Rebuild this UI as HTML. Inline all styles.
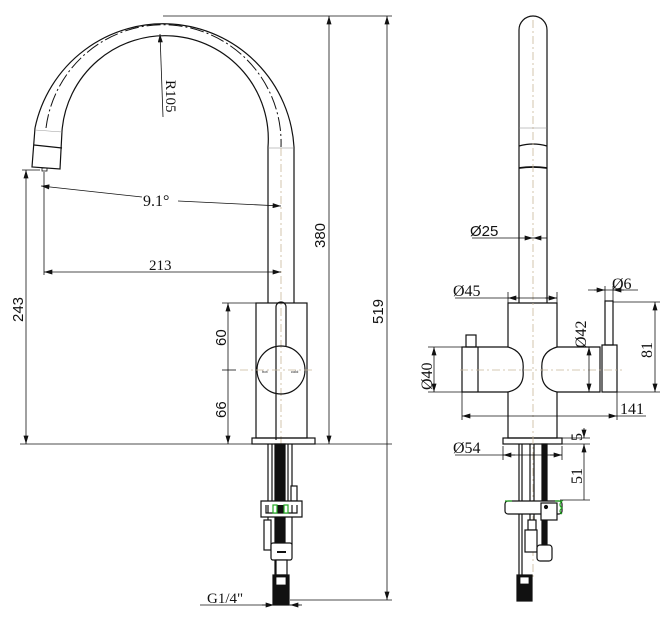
<!DOCTYPE html>
<html><head><meta charset="utf-8"><style>
html,body{margin:0;padding:0;background:#fff}
svg{display:block}
text{font-family:"Liberation Serif",serif;fill:#111}
.s{font-family:"Liberation Sans",sans-serif}
</style></head><body>
<svg width="672" height="619" viewBox="0 0 672 619" xmlns="http://www.w3.org/2000/svg">
<defs>
<marker id="a" viewBox="0 0 10 6" refX="10" refY="3" markerWidth="9" markerHeight="5" orient="auto-start-reverse" markerUnits="userSpaceOnUse"><path d="M0,0 L10,3 L0,6z" fill="#111"/></marker>
</defs>
<g fill="none" stroke="#111" stroke-width="1.2">
<path d="M35,128 A131,131 0 0 1 294,147 L294,303"/>
<path d="M62,131 A103,103 0 0 1 268,147 L268,303"/>
<path d="M46,128 A118,118 0 0 1 281,147" stroke-width="1" stroke-dasharray="14,3,2,3"/>
<line x1="268" y1="148" x2="294" y2="148" stroke-width="0.6" stroke="#888"/>
<path d="M35,128 L32,167 L60,169 L62,131" />
<line x1="35" y1="130" x2="62" y2="132" stroke-width="0.5" stroke="#999"/>
<line x1="34" y1="145" x2="62" y2="148"/>
<rect x="42" y="168" width="5" height="3" stroke-width="0.8"/>
<line x1="281" y1="148" x2="281" y2="580" stroke="#c9b79a" stroke-width="0.8" stroke-dasharray="8,3,2,3"/>
<rect x="256" y="303" width="51" height="135"/>
<path d="M276,440 L276,307 A5,5 0 0 1 286,307 L286,346"/>
<circle cx="281" cy="370" r="24"/>
<line x1="240" y1="370" x2="312" y2="370" stroke="#c9b79a" stroke-width="0.8" stroke-dasharray="8,3,2,3"/>
<rect x="252" y="438" width="63" height="6"/>
<line x1="268" y1="444" x2="268" y2="545"/><line x1="272" y1="444" x2="272" y2="501"/>
<line x1="288" y1="444" x2="288" y2="501"/><line x1="292" y1="444" x2="292" y2="545"/>
<rect x="275" y="444" width="10" height="131" fill="#111"/>
<rect x="291" y="486" width="6" height="15" fill="#fff"/>
<path d="M261,501 H302 V517 H261Z M266,505 V513 H297 V505" fill="#fff"/>
<rect x="273" y="505" width="4" height="8" stroke="#2a2" fill="#fff"/>
<rect x="284" y="505" width="4" height="8" stroke="#2a2" fill="#fff"/>
<rect x="264" y="520" width="7" height="30" fill="#fff"/>
<rect x="271" y="543" width="21" height="17" rx="2" fill="#fff"/>
<line x1="277" y1="552" x2="286" y2="552" stroke-width="2"/>
<rect x="276" y="560" width="11" height="15" fill="#fff"/>
<rect x="273" y="575" width="16" height="30" fill="#111"/>
<rect x="276" y="577" width="10" height="8" fill="#fff" stroke-width="0.8"/>
</g>
<g fill="none" stroke="#111" stroke-width="0.8">
<line x1="163" y1="16" x2="392" y2="16"/>
<line x1="329" y1="16" x2="329" y2="444" marker-start="url(#a)" marker-end="url(#a)"/>
<line x1="387" y1="16" x2="387" y2="600" marker-start="url(#a)" marker-end="url(#a)"/>
<line x1="20" y1="444" x2="392" y2="444"/>
<line x1="290" y1="600" x2="392" y2="600"/>
<line x1="22" y1="170" x2="40" y2="170"/>
<line x1="26" y1="170" x2="26" y2="444" marker-start="url(#a)" marker-end="url(#a)"/>
<line x1="222" y1="303" x2="256" y2="303"/>
<line x1="228" y1="303" x2="228" y2="444" marker-start="url(#a)" marker-end="url(#a)"/>
<line x1="222" y1="370" x2="236" y2="370"/>
<line x1="44" y1="172" x2="44" y2="275"/>
<line x1="41" y1="186" x2="142" y2="197" marker-start="url(#a)"/>
<line x1="178" y1="201" x2="281" y2="206" marker-end="url(#a)"/>
<line x1="44" y1="272" x2="281" y2="272" marker-start="url(#a)" marker-end="url(#a)"/>
<line x1="163" y1="117" x2="160" y2="34" marker-end="url(#a)"/>
<line x1="200" y1="605" x2="300" y2="605"/>
<line x1="262" y1="605" x2="274" y2="605" marker-end="url(#a)"/>
<line x1="302" y1="605" x2="290" y2="605" marker-end="url(#a)"/>
</g>
<text x="143" y="206" font-size="16">9.1°</text>
<text x="149" y="270" font-size="15">213</text>
<text x="207" y="603" font-size="15">G1/4"</text>
<text transform="translate(166,80) rotate(90)" font-size="15">R105</text>
<text class="s" transform="translate(325,248) rotate(-90)" font-size="15">380</text>
<text class="s" transform="translate(383,324) rotate(-90)" font-size="15">519</text>
<text class="s" transform="translate(23,322) rotate(-90)" font-size="15">243</text>
<text class="s" transform="translate(226,346) rotate(-90)" font-size="15">60</text>
<text class="s" transform="translate(226,418) rotate(-90)" font-size="15">66</text>
<text class="s" x="262" y="373" font-size="4">hot</text>
<text class="s" x="291" y="373" font-size="4">cold</text>

<g fill="none" stroke="#111" stroke-width="1.2">
<path d="M519,303 V30 A14,14 0 0 1 547,30 V303"/>
<line x1="519" y1="128" x2="547" y2="128" stroke-width="0.5" stroke="#888"/>
<path d="M519,146 Q533,142 547,146"/>
<path d="M519,168 Q533,166 547,168" stroke-width="1.8"/>
<path d="M508,303 H557 V347 Q540,352 542,370 Q540,388 557,392 V438 H508 V392 Q525,388 523,370 Q525,352 508,347Z"/>
<path d="M508,347 H462 V392 H508"/>
<line x1="478" y1="347" x2="478" y2="392"/>
<rect x="466" y="335" width="10" height="12"/>
<path d="M557,347 H600 V392 H557"/>
<rect x="602" y="345" width="15" height="47"/>
<rect x="605" y="301" width="8" height="44"/>
<rect x="503" y="438" width="59" height="6"/>
<line x1="533" y1="20" x2="533" y2="580" stroke="#c9b79a" stroke-width="0.8" stroke-dasharray="8,3,2,3"/>
<line x1="460" y1="370" x2="622" y2="370" stroke="#c9b79a" stroke-width="0.8" stroke-dasharray="8,3,2,3"/>
<line x1="519" y1="444" x2="519" y2="600"/><line x1="522" y1="444" x2="522" y2="600"/>
<line x1="530" y1="444" x2="530" y2="520"/><line x1="534" y1="444" x2="534" y2="520"/>
<rect x="542" y="444" width="5" height="105" fill="#111"/>
<rect x="505" y="501" width="57" height="13" rx="3" fill="#fff"/>
<line x1="505" y1="501" x2="512" y2="501" stroke="#2a2"/>
<path d="M555,501 H562 Q558,505 562,508 Q558,511 562,514" stroke="#2a2"/>
<rect x="541" y="503" width="16" height="17" fill="#fff"/>
<circle cx="546" cy="507" r="1.5" fill="#111"/>
<rect x="528" y="520" width="8" height="10" fill="#fff"/>
<rect x="525" y="530" width="12" height="22" fill="#fff"/>
<rect x="537" y="545" width="15" height="16" rx="3" fill="#fff"/>
<rect x="517" y="575" width="15" height="26" fill="#111"/>
<rect x="520" y="577" width="9" height="7" fill="#fff" stroke-width="0.8"/>
</g>
<g fill="none" stroke="#111" stroke-width="0.8">
<line x1="472" y1="238" x2="519" y2="238"/>
<line x1="519" y1="238" x2="533" y2="238" marker-end="url(#a)"/>
<line x1="547" y1="238" x2="533" y2="238" marker-end="url(#a)"/>
<line x1="455" y1="298" x2="557" y2="298"/>
<line x1="508" y1="298" x2="520" y2="298" marker-start="url(#a)"/>
<line x1="545" y1="298" x2="557" y2="298" marker-end="url(#a)"/>
<line x1="508" y1="292" x2="508" y2="303"/><line x1="557" y1="292" x2="557" y2="303"/>
<line x1="428" y1="347" x2="462" y2="347"/><line x1="428" y1="392" x2="462" y2="392"/>
<line x1="434" y1="347" x2="434" y2="392" marker-start="url(#a)" marker-end="url(#a)"/>
<line x1="589" y1="347" x2="589" y2="392" marker-start="url(#a)" marker-end="url(#a)"/>
<line x1="588" y1="290" x2="638" y2="290"/>
<line x1="594" y1="290" x2="605" y2="290" marker-end="url(#a)"/>
<line x1="624" y1="290" x2="613" y2="290" marker-end="url(#a)"/>
<line x1="605" y1="286" x2="605" y2="301"/><line x1="613" y1="286" x2="613" y2="301"/>
<line x1="613" y1="302" x2="660" y2="302"/><line x1="617" y1="392" x2="660" y2="392"/>
<line x1="655" y1="302" x2="655" y2="392" marker-start="url(#a)" marker-end="url(#a)"/>
<line x1="462" y1="392" x2="462" y2="420"/><line x1="617" y1="392" x2="617" y2="420"/>
<line x1="462" y1="416" x2="617" y2="416" marker-start="url(#a)" marker-end="url(#a)"/>
<line x1="617" y1="416" x2="646" y2="416"/>
<line x1="562" y1="438" x2="590" y2="438"/><line x1="562" y1="444" x2="590" y2="444"/>
<line x1="584" y1="428" x2="584" y2="438" marker-end="url(#a)"/>
<line x1="584" y1="500" x2="584" y2="444" marker-end="url(#a)"/>
<line x1="560" y1="500" x2="590" y2="500"/>
<line x1="455" y1="455" x2="562" y2="455"/>
<line x1="503" y1="455" x2="515" y2="455" marker-start="url(#a)"/>
<line x1="550" y1="455" x2="562" y2="455" marker-end="url(#a)"/>
<line x1="503" y1="446" x2="503" y2="460"/><line x1="562" y1="446" x2="562" y2="460"/>
</g>
<text class="s" x="470" y="236" font-size="15">Ø25</text>
<text x="453" y="296" font-size="16">Ø45</text>
<text x="612" y="289" font-size="16">Ø6</text>
<text x="453" y="453" font-size="16">Ø54</text>
<text x="620" y="414" font-size="16">141</text>
<text transform="translate(432,390) rotate(-90)" font-size="16">Ø40</text>
<text transform="translate(586,348) rotate(-90)" font-size="16">Ø42</text>
<text transform="translate(652,358) rotate(-90)" font-size="16">81</text>
<text transform="translate(582,441) rotate(-90)" font-size="16">5</text>
<text transform="translate(582,484) rotate(-90)" font-size="16">51</text>
</svg>
</body></html>
